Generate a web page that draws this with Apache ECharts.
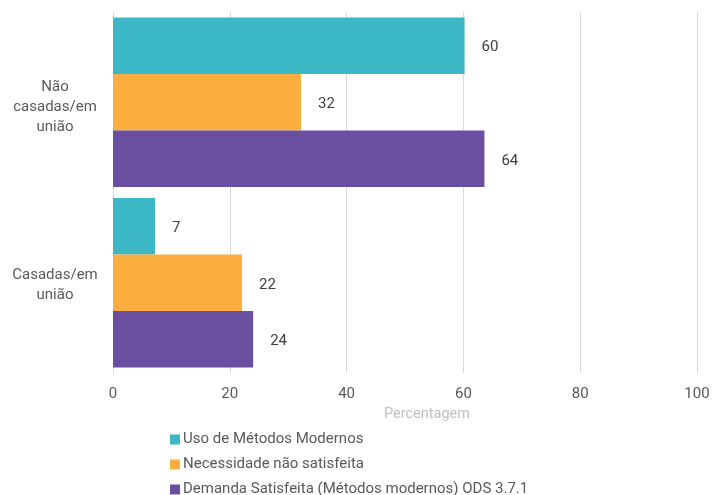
<!DOCTYPE html>
<html><head><meta charset="utf-8">
<script src="https://cdn.jsdelivr.net/npm/echarts@6/dist/echarts.min.js"></script>
<style>html,body{margin:0;padding:0;background:#fff}#c{width:712px;height:495px}</style>
</head><body><div id="c"></div>
<script>
const categories = ['Não\ncasadas/em\nunião', 'Casadas/em\nunião'];
const seriesNames = ['Uso de Métodos Modernos', 'Necessidade não satisfeita', 'Demanda Satisfeita (Métodos modernos) ODS 3.7.1'];
const usoModernos = [60.2, 7.2];
const necessidade = [32.2, 22.1];
const demanda = [63.6, 24.0];
const xTicks = [0, 20, 40, 60, 80, 100];
const colors = ['#3BB7C6', '#FBAE40', '#6A4FA1'];

const font = 'Roboto, "Liberation Sans", sans-serif';
const chart = echarts.init(document.getElementById('c'));
const values = [usoModernos, necessidade, demanda];
chart.setOption({
  animation: false,
  textStyle: { fontFamily: font },
  grid: { left: 113, right: 15, top: 12, bottom: 122, containLabel: false, outerBoundsMode: 'none' },
  legend: {
    orient: 'vertical', left: 170, top: 431, height: 80, padding: 0,
    itemWidth: 10, itemHeight: 10, itemGap: 8, icon: 'rect',
    textStyle: { color: '#595959', fontSize: 15, fontFamily: font, padding: [0,0,0,-2], lineHeight: 17 },
    data: seriesNames
  },
  xAxis: {
    type: 'value', min: xTicks[0], max: xTicks[xTicks.length - 1], interval: 20,
    name: 'Percentagem', nameLocation: 'middle', nameGap: 20,
    nameTextStyle: { color: '#BFBFBF', fontSize: 14.5, padding: [0, 0, 0, 44] },
    axisLine: { show: false }, axisTick: { show: false },
    axisLabel: { color: '#595959', fontSize: 15, margin: 14 },
    splitLine: { lineStyle: { color: '#D9D9D9', width: 1 } }
  },
  yAxis: {
    type: 'category', inverse: true,
    data: categories,
    axisLine: { show: true, lineStyle: { color: '#D9D9D9' } },
    axisTick: { show: false },
    axisLabel: { color: '#595959', fontSize: 15, align: 'center', margin: 58,
      formatter: (v, i) => '{' + (i === 0 ? 'a' : 'b') + '|' + v + '}',
      rich: {
        a: { fontSize: 15, lineHeight: 20, align: 'center', color: '#595959', padding: [9, 0, 0, 0] },
        b: { fontSize: 15, lineHeight: 20, align: 'center', color: '#595959', padding: [5, 0, 0, 0] }
      }
    }
  },
  series: seriesNames.map((n, i) => ({
    name: n, type: 'bar', data: values[i], barGap: '0%', barCategoryGap: '6%',
    itemStyle: { color: colors[i] },
    label: { show: true, position: 'right', distance: 17, color: '#404040', fontSize: 15,
      offset: [0, 2], formatter: p => Math.round(p.value) }
  }))
});
</script></body></html>
